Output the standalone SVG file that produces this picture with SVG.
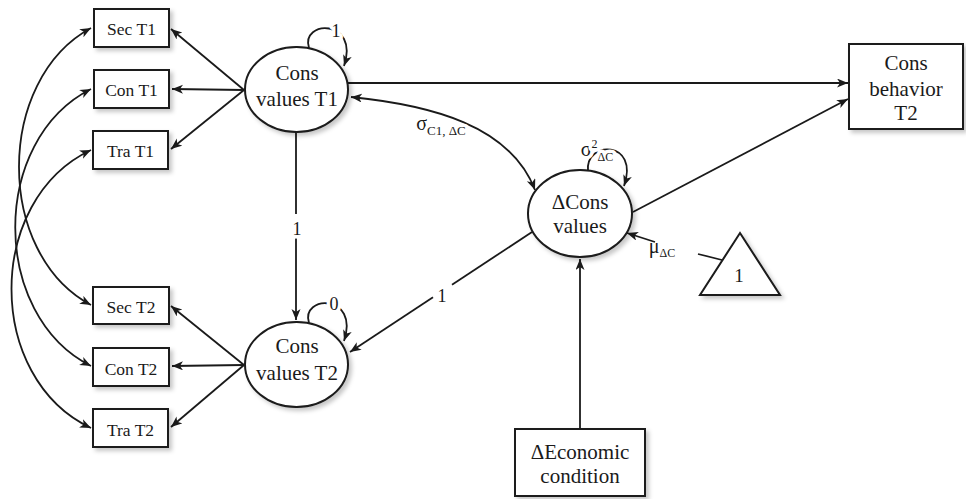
<svg xmlns="http://www.w3.org/2000/svg" width="966" height="499" viewBox="0 0 966 499">
<style>
.shape{fill:#fff;stroke:#1a1a1a;stroke-width:2;filter:url(#sh)}
.t{font-family:"Liberation Serif","Times New Roman",serif;fill:#1a1a1a;text-anchor:middle}
.big{font-size:21px}
.sm{font-size:17.5px}
.el{font-size:18px;paint-order:stroke;stroke:#fff;stroke-width:7px;stroke-linejoin:round}
.c{fill:none;stroke:#1a1a1a;stroke-width:1.8}
.a{marker-end:url(#ah)}
.b{marker-start:url(#ah);marker-end:url(#ah)}
</style>
<defs>
<marker id="ah" markerUnits="userSpaceOnUse" markerWidth="12" markerHeight="10" refX="11" refY="4.5" orient="auto-start-reverse" viewBox="0 0 12 10">
<path d="M0,0 L11,4.5 L0,9 L3,4.5 Z" fill="#1a1a1a"/>
</marker>
<filter id="sh" x="-20%" y="-20%" width="150%" height="150%">
<feDropShadow dx="3" dy="3" stdDeviation="2" flood-color="#000" flood-opacity="0.22"/>
</filter>
</defs>
<rect width="966" height="499" fill="#fff"/>
<g id="connectors">
<path class="c b" d="M91,28 C -5,80 -5,254 91,305"/>
<path class="c b" d="M91,89 C -10,140 -10,315 91,366"/>
<path class="c b" d="M91,150 C -15,200 -15,378 91,428"/>
<path class="c a" d="M244,90 L171,29"/>
<path class="c a" d="M244,90 L172,89"/>
<path class="c a" d="M244,90 L171,149"/>
<path class="c a" d="M244,365 L171,306"/>
<path class="c a" d="M244,365 L172,366"/>
<path class="c a" d="M244,365 L171,427"/>
<path class="c a" d="M309,48 C 300,20 360,18 344,66"/>
<path class="c a" d="M309,323 C 300,295 360,293 344,341"/>
<path class="c a" d="M588,171 C 585,140 640,140 624,186"/>
<path class="c" d="M296,132 L296,214"/>
<path class="c a" d="M296,238 L296,320"/>
<path class="c a" d="M348,83 L848,83"/>
<path class="c b" d="M351,97 C 430,105 510,125 535,190"/>
<path class="c a" d="M633,212 L848,99"/>
<path class="c" d="M532,232 L452,284.7"/>
<path class="c a" d="M433,297.3 L350,352"/>
<path class="c" d="M722,260 L698,254"/>
<path class="c a" d="M655,242 L627,233"/>
<path class="c a" d="M580,429 L580,259"/>
<text class="t el" x="336" y="37">1</text>
<text class="t el" x="334" y="310">0</text>
<text class="t el" x="297" y="235">1</text>
<text class="t el" x="442" y="302">1</text>
<text class="t el" x="441" y="130" text-anchor="start" style="font-size:20px">σ<tspan font-size="13" dy="5">C1, ΔC</tspan></text>
<text class="t el" x="597" y="156" text-anchor="start" style="font-size:20px">σ<tspan font-size="12" dy="-8">2</tspan><tspan font-size="12" dy="13">ΔC</tspan></text>
<text class="t" x="662" y="253" text-anchor="start" style="font-size:20px">μ<tspan font-size="12" dy="4">ΔC</tspan></text>
</g>
<g id="sec-t1"><rect class="shape" x="94" y="9" width="75" height="38"/><text class="t sm" x="131.5" y="35">Sec T1</text></g>
<g id="con-t1"><rect class="shape" x="94" y="70" width="75" height="38"/><text class="t sm" x="131.5" y="96">Con T1</text></g>
<g id="tra-t1"><rect class="shape" x="93" y="131" width="75" height="38"/><text class="t sm" x="130.5" y="157">Tra T1</text></g>
<g id="sec-t2"><rect class="shape" x="93" y="287" width="76" height="37"/><text class="t sm" x="131" y="313">Sec T2</text></g>
<g id="con-t2"><rect class="shape" x="93" y="348" width="76" height="38"/><text class="t sm" x="131" y="375">Con T2</text></g>
<g id="tra-t2"><rect class="shape" x="93" y="409" width="75" height="38"/><text class="t sm" x="130.5" y="436">Tra T2</text></g>
<g id="cons-values-t1"><ellipse class="shape" cx="296.5" cy="89.5" rx="51.5" ry="42.5"/><text class="t big" x="297" y="80">Cons</text><text class="t big" x="297" y="106">values T1</text></g>
<g id="cons-values-t2"><ellipse class="shape" cx="296.5" cy="364.5" rx="51.5" ry="42.5"/><text class="t big" x="297" y="353">Cons</text><text class="t big" x="297" y="380">values T2</text></g>
<g id="delta-cons-values"><ellipse class="shape" cx="580" cy="213.5" rx="52" ry="43.5"/><text class="t big" x="580" y="209">ΔCons</text><text class="t big" x="580" y="233">values</text></g>
<g id="cons-behavior-t2"><rect class="shape" x="849" y="44" width="114" height="85"/><text class="t big" x="906" y="70">Cons</text><text class="t big" x="906" y="96">behavior</text><text class="t big" x="906" y="120">T2</text></g>
<g id="delta-economic-condition"><rect class="shape" x="515" y="429" width="130" height="67"/><text class="t big" x="580" y="459">ΔEconomic</text><text class="t big" x="580" y="483">condition</text></g>
<g id="constant"><polygon class="shape" points="740,233 780,295 700,295"/><text class="t" x="739" y="282" style="font-size:19px">1</text></g>
</svg>
